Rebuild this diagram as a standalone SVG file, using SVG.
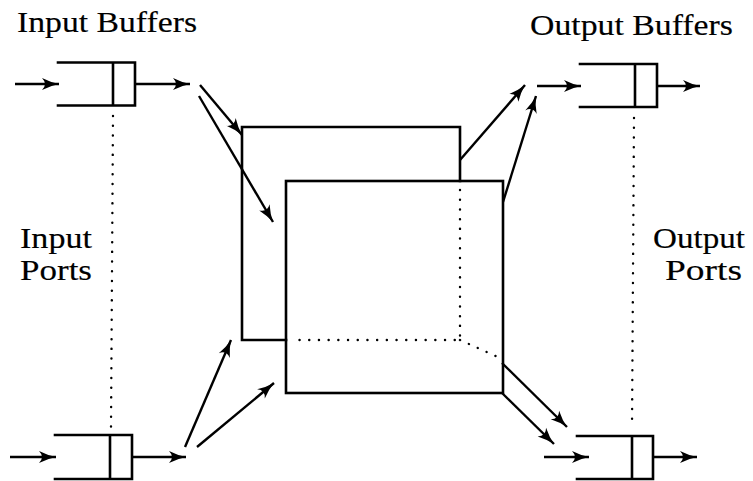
<svg xmlns="http://www.w3.org/2000/svg" width="753" height="481" viewBox="0 0 753 481">
<style>
.s{fill:none;stroke:#000;stroke-width:2.6;stroke-linecap:square}
.a{fill:none;stroke:#000;stroke-width:2.4;marker-end:url(#ah)}
.d{fill:none;stroke:#000;stroke-width:2.4;stroke-dasharray:0.1 9.6;stroke-linecap:round}
.t{font-family:"Liberation Serif","DejaVu Serif",serif;font-size:29px;fill:#000;stroke:#000;stroke-width:0.15}
</style>
<defs>
<marker id="ah" markerUnits="userSpaceOnUse" markerWidth="20" markerHeight="14" viewBox="-1 -7 20 14" refX="17" refY="0" orient="auto">
<path d="M0,-6 Q9,-1.5 17,0 Q9,1.5 0,6 Q6,0 0,-6 z" fill="#000"/>
</marker>
</defs>
<rect width="753" height="481" fill="#fff"/>
<g id="labels">
<text class="t" x="17" y="32" textLength="180" lengthAdjust="spacingAndGlyphs">Input Buffers</text>
<text class="t" x="530" y="35" textLength="203" lengthAdjust="spacingAndGlyphs">Output Buffers</text>
<text class="t" x="20" y="248" textLength="72" lengthAdjust="spacingAndGlyphs">Input</text>
<text class="t" x="20" y="280" textLength="72" lengthAdjust="spacingAndGlyphs">Ports</text>
<text class="t" x="653" y="248" textLength="92" lengthAdjust="spacingAndGlyphs">Output</text>
<text class="t" x="665" y="280" textLength="77" lengthAdjust="spacingAndGlyphs">Ports</text>
</g>
<g id="in-buffer-top">
<path class="s" d="M58,62.5 H135 V105.5 H58 M113,62.5 V105.5"/>
</g>
<g id="in-buffer-bottom">
<path class="s" d="M55,435 H132 V479 H55 M110,435 V479"/>
</g>
<g id="out-buffer-top">
<path class="s" d="M580,64 H657 V107 H580 M635,64 V107"/>
</g>
<g id="out-buffer-bottom">
<path class="s" d="M577,436 H653 V479 H577 M632,436 V479"/>
</g>
<g id="switch-back">
<path class="s" d="M286,340 H242 V127 H460 V181"/>
<path class="d" d="M460,190 V340 H290 M460,340 L500,358"/>
</g>
<g id="switch-front">
<rect class="s" x="286" y="181" width="217" height="212"/>
</g>
<g id="ports">
<path class="d" d="M113,116 L111,428"/>
<path class="d" d="M634,118 L632,428"/>
</g>
<g id="connectors">
<line class="a" x1="15" y1="84" x2="59" y2="84"/>
<line class="a" x1="136" y1="84" x2="190" y2="84"/>
<line class="a" x1="10" y1="457" x2="56" y2="457"/>
<line class="a" x1="132" y1="457" x2="186" y2="457"/>
<line class="a" x1="537" y1="86" x2="581" y2="86"/>
<line class="a" x1="657" y1="86" x2="700" y2="86"/>
<line class="a" x1="544" y1="457" x2="589" y2="457"/>
<line class="a" x1="653" y1="457" x2="697" y2="457"/>
<line class="a" x1="200" y1="85" x2="242" y2="135"/>
<line class="a" x1="199" y1="96" x2="273" y2="222"/>
<line class="a" x1="185" y1="447" x2="231" y2="340"/>
<line class="a" x1="197" y1="447" x2="274" y2="383"/>
<line class="a" x1="460" y1="160" x2="525" y2="85"/>
<line class="a" x1="503" y1="202" x2="536" y2="96"/>
<line class="a" x1="502" y1="363" x2="567" y2="427"/>
<line class="a" x1="502" y1="393" x2="554" y2="444"/>
</g>
</svg>
